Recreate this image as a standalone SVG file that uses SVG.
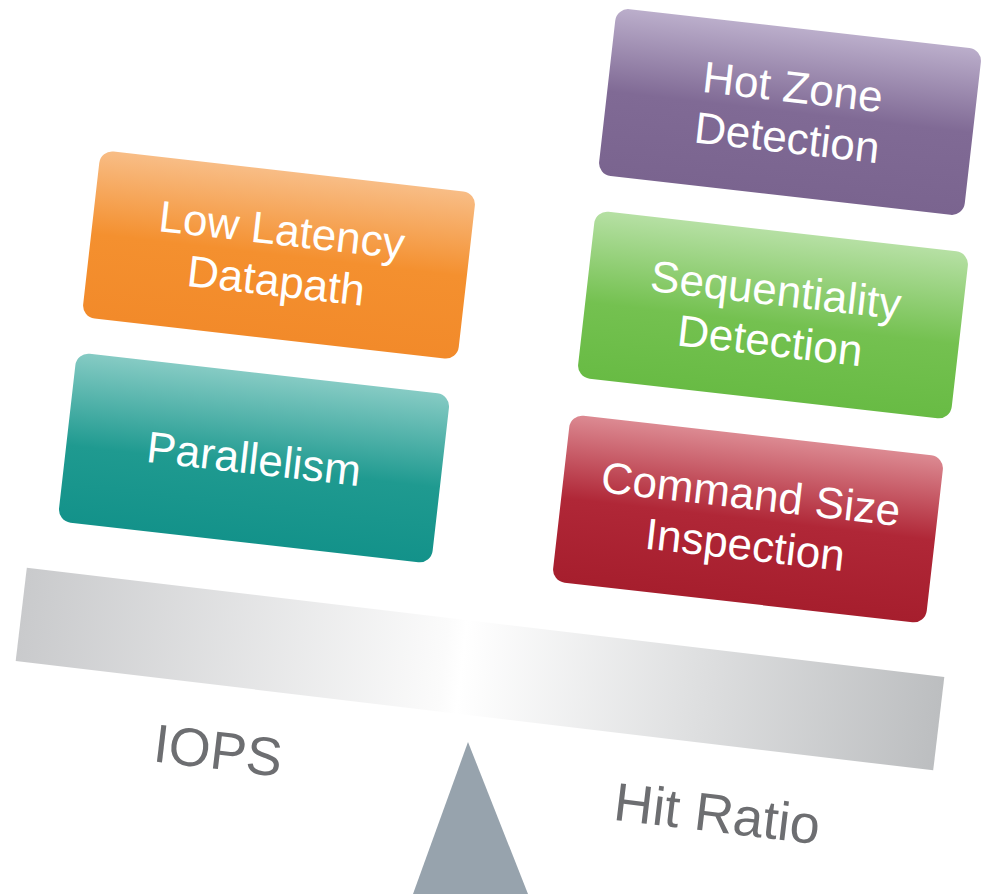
<svg xmlns="http://www.w3.org/2000/svg" width="981" height="894" viewBox="0 0 981 894">
<defs>
<linearGradient id="gOrange" x1="0" y1="0" x2="0" y2="1"><stop offset="0" stop-color="#f8bd86"/><stop offset="0.5" stop-color="#f4902f"/><stop offset="1" stop-color="#f28a2a"/></linearGradient>
<linearGradient id="gTeal" x1="0" y1="0" x2="0" y2="1"><stop offset="0" stop-color="#86cbc4"/><stop offset="0.55" stop-color="#1f9a90"/><stop offset="1" stop-color="#13928a"/></linearGradient>
<linearGradient id="gPurple" x1="0" y1="0" x2="0" y2="1"><stop offset="0" stop-color="#bbaecb"/><stop offset="0.5" stop-color="#806a95"/><stop offset="1" stop-color="#7a648f"/></linearGradient>
<linearGradient id="gGreen" x1="0" y1="0" x2="0" y2="1"><stop offset="0" stop-color="#b6e0a4"/><stop offset="0.55" stop-color="#74c150"/><stop offset="1" stop-color="#68bb44"/></linearGradient>
<linearGradient id="gRed" x1="0" y1="0" x2="0" y2="1"><stop offset="0" stop-color="#dc8a92"/><stop offset="0.5" stop-color="#b02737"/><stop offset="1" stop-color="#a61e2d"/></linearGradient>
<linearGradient id="gBeam" x1="0" y1="0" x2="1" y2="0"><stop offset="0" stop-color="#c9cacc"/><stop offset="0.46" stop-color="#fbfbfb"/><stop offset="0.48" stop-color="#ffffff"/><stop offset="1" stop-color="#bcbec0"/></linearGradient>
<style>
.box text{font-family:"Liberation Sans",Arial,sans-serif;font-size:44px;fill:#ffffff;text-anchor:middle}
.lbl{font-family:"Liberation Sans",Arial,sans-serif;font-size:54px;fill:#6d6e71;text-anchor:middle}
</style>
</defs>
<g id="beam" transform="translate(480,669) rotate(6.8)">
<rect x="-462" y="-47" width="924" height="94" fill="url(#gBeam)"/>
</g>
<g id="fulcrum"><polygon points="468,742 413,894 528,894" fill="#97a3ad"/></g>
<g id="low-latency" class="box" transform="translate(279,255) rotate(6.5)">
<rect x="-189" y="-84" width="378" height="168" rx="13" fill="url(#gOrange)"/>
<text x="0" y="-10">Low Latency</text><text x="0" y="41">Datapath</text>
</g>
<g id="parallelism" class="box" transform="translate(254,458) rotate(6.5)">
<rect x="-188" y="-85" width="376" height="170" rx="13" fill="url(#gTeal)"/>
<text x="0" y="16">Parallelism</text>
</g>
<g id="hot-zone" class="box" transform="translate(790,112) rotate(6.5)">
<rect x="-184" y="-84" width="368" height="168" rx="13" fill="url(#gPurple)"/>
<text x="0" y="-10">Hot Zone</text><text x="0" y="41">Detection</text>
</g>
<g id="sequentiality" class="box" transform="translate(773,315) rotate(6.5)">
<rect x="-188" y="-84" width="376" height="168" rx="13" fill="url(#gGreen)"/>
<text x="0" y="-10">Sequentiality</text><text x="0" y="41">Detection</text>
</g>
<g id="command-size" class="box" transform="translate(748,519) rotate(6.5)">
<rect x="-188" y="-84" width="376" height="168" rx="13" fill="url(#gRed)"/>
<text x="0" y="-10">Command Size</text><text x="0" y="41">Inspection</text>
</g>
<g id="iops"><text class="lbl" transform="translate(216,769) rotate(6.8)">IOPS</text></g>
<g id="hit-ratio"><text class="lbl" transform="translate(715,832) rotate(6.8)">Hit Ratio</text></g>
</svg>
